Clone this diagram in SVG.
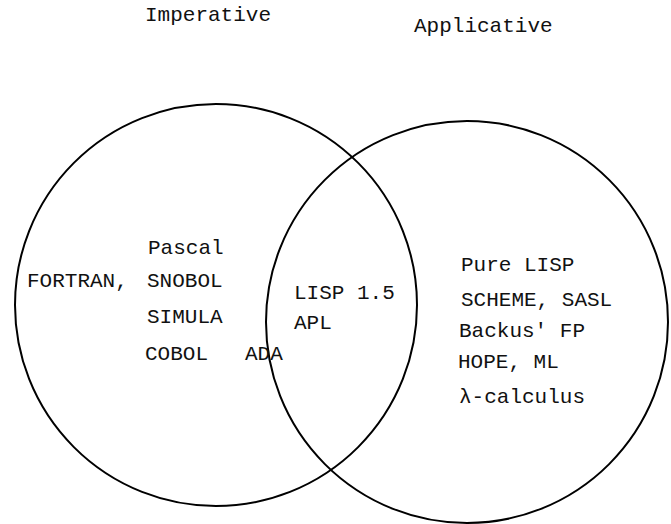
<svg xmlns="http://www.w3.org/2000/svg" width="671" height="524" viewBox="0 0 671 524">
<style>
.c{fill:none;stroke:#000;stroke-width:2}
text{font-family:"Liberation Mono","DejaVu Sans Mono",monospace;font-size:21px;fill:#111}
</style>
<rect width="671" height="524" fill="#fff"/>
<g id="imperative">
<circle class="c" cx="216" cy="305" r="201"/>
<text x="145" y="21">Imperative</text>
</g>
<g id="applicative">
<circle class="c" cx="467" cy="322" r="201"/>
<text x="414" y="32">Applicative</text>
</g>
<g id="imperative-langs">
<text x="148" y="254">Pascal</text>
<text x="27" y="287">FORTRAN,</text>
<text x="147" y="287">SNOBOL</text>
<text x="147" y="323">SIMULA</text>
<text x="145" y="360">COBOL</text>
<text x="245" y="360">ADA</text>
</g>
<g id="both-langs">
<text x="294" y="299">LISP 1.5</text>
<text x="294" y="329">APL</text>
</g>
<g id="applicative-langs">
<text x="461" y="271">Pure LISP</text>
<text x="461" y="306">SCHEME, SASL</text>
<text x="459" y="337">Backus' FP</text>
<text x="458" y="368">HOPE, ML</text>
<text x="459" y="403">λ-calculus</text>
</g>
<g id="connectors"/>
</svg>
